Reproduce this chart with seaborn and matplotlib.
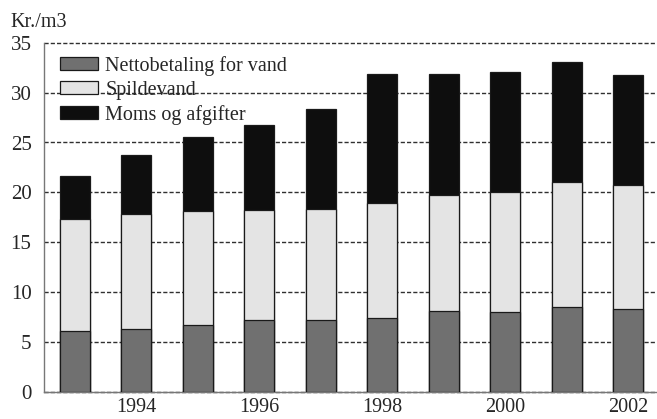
import matplotlib
matplotlib.use("Agg")
import matplotlib.pyplot as plt
from matplotlib.patches import Patch
import seaborn as sns
import pandas as pd
import numpy as np

years = [1993, 1994, 1995, 1996, 1997, 1998, 1999, 2000, 2001, 2002]
netto = [6.1, 6.3, 6.7, 7.2, 7.2, 7.4, 8.1, 8.0, 8.5, 8.3]
spildevand = [11.2, 11.5, 11.45, 11.0, 11.1, 11.5, 11.6, 12.0, 12.5, 12.4]
moms = [4.35, 5.9, 7.45, 8.6, 10.1, 13.0, 12.2, 12.1, 12.1, 11.05]
series_names = ["Nettobetaling for vand", "Spildevand", "Moms og afgifter"]
year_labels = ["1994", "1996", "1998", "2000", "2002"]

colors = ["#707070", "#e4e4e4", "#0e0e0e"]

sns.set_theme(style="white")
plt.rcParams["font.family"] = ["Liberation Serif", "DejaVu Serif"]

df = pd.DataFrame({"year": [str(y) for y in years],
                   "netto": netto, "spild": spildevand, "moms": moms})
df["c1"] = df["netto"]
df["c2"] = df["netto"] + df["spild"]
df["c3"] = df["c2"] + df["moms"]
order = [str(y) for y in years]

fig = plt.figure(figsize=(6.57, 4.19), dpi=100)
ax = fig.add_axes([44 / 657, 1 - 392 / 419, (657 - 44) / 657, (392 - 42.7) / 419])

for col, c in zip(["c3", "c2", "c1"], colors[::-1]):
    sns.barplot(data=df, x="year", y=col, order=order, color=c, width=0.49,
                edgecolor="#1a1a1a", linewidth=0.9, saturation=1, ax=ax, zorder=3)

ax.set_ylim(0, 35)
ax.set_xlim(-0.5, 9.47)
ax.set_yticks(np.arange(0, 36, 5))
ax.set_yticklabels([str(v) for v in range(0, 36, 5)], fontsize=15)
ax.set_xticks([1, 3, 5, 7, 9])
ax.set_xticklabels(year_labels, fontsize=14.5)
ax.set_xticks(np.arange(0.5, 9, 1), minor=True)
ax.tick_params(axis="x", which="major", length=0, pad=4.5)
ax.tick_params(axis="x", which="minor", length=4, width=1, color="#555555", direction="out")
ax.tick_params(axis="y", which="major", length=5, width=1, color="#555555", direction="out", pad=4)
ax.set_xlabel("")
ax.set_ylabel("")

for y in range(0, 36, 5):
    ax.axhline(y, color="#303030", lw=1, dashes=(3, 1.5), zorder=1, clip_on=False)

for s in ["top", "right"]:
    ax.spines[s].set_visible(False)
for s in ["left", "bottom"]:
    ax.spines[s].set_color("#777777")
    ax.spines[s].set_linewidth(1)
ax.set_axisbelow(True)

handles = [Patch(facecolor=c, edgecolor="#1a1a1a", linewidth=0.9) for c in colors]
ax.legend(handles, series_names, loc="upper left", bbox_to_anchor=(60 / 657, 1 - 56 / 419),
          bbox_transform=fig.transFigure, frameon=False, fontsize=14.5, borderpad=0,
          borderaxespad=0, handlelength=1.9, handleheight=0.6, handletextpad=0.35,
          labelspacing=0.25)

fig.text(10 / 657, 1 - 27 / 419, "Kr./m3", fontsize=14.5, va="baseline", ha="left")

fig.savefig("out.png", dpi=100)
